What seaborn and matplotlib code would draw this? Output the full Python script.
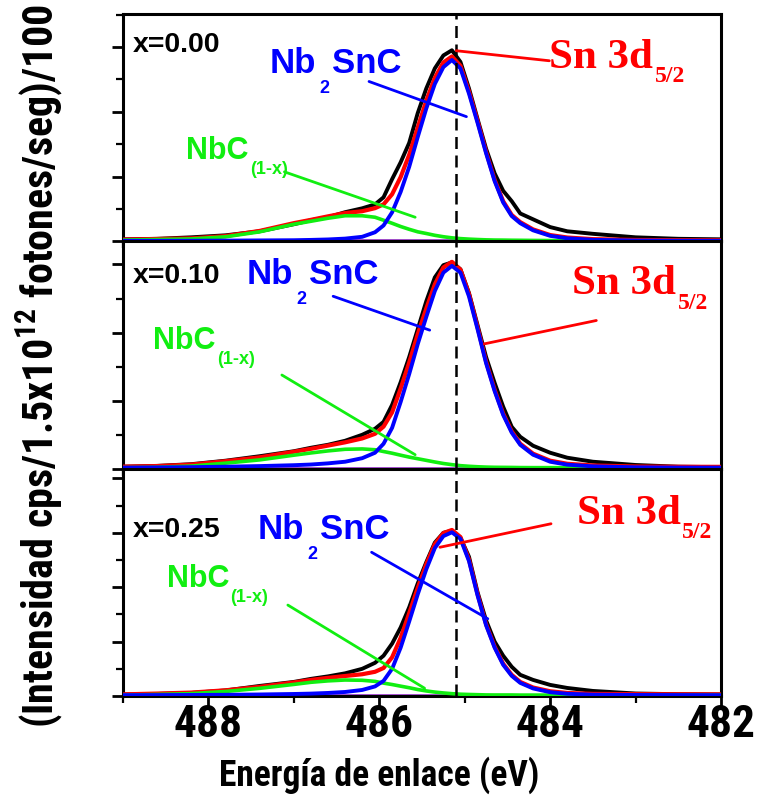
import matplotlib
matplotlib.use("Agg")
import matplotlib.pyplot as plt
from matplotlib import font_manager as fm
from matplotlib.ticker import MultipleLocator
import numpy as np
import pandas as pd
import seaborn as sns

# Binding energy grid (eV)
energia = [489.0, 488.6, 488.2, 487.8, 487.4, 487.0, 486.8, 486.6, 486.4, 486.2, 486.05,
           485.95, 485.85, 485.75, 485.65, 485.55, 485.45, 485.35, 485.25, 485.15,
           485.05, 484.95, 484.85, 484.75, 484.65, 484.55, 484.45, 484.35, 484.2,
           484.0, 483.8, 483.5, 483.0, 482.5, 482.0]

muestras = ["x=0.00", "x=0.10", "x=0.25"]

# x = 0.00
nb2snc_000 = [0.8, 0.8, 0.9, 1.1, 1.4, 1.7, 2.2, 2.9, 4.2, 7.0, 14.0, 24.5, 44.8, 76.3, 115,
              161, 205, 243, 269, 280, 267, 228, 183, 136, 93, 60, 39, 28, 17, 8.5, 4.7,
              2.3, 1.2, 0.9, 0.8]
nbc_000 = [2.0, 2.8, 3.7, 7.0, 14.7, 26.4, 31, 35.7, 39.5, 39.5, 37.2, 32.6, 27.9, 22.9,
           18.6, 14.7, 12.1, 9.3, 7.1, 5.4, 4.2, 3.4, 2.8, 2.3, 2.0, 1.9, 1.7, 1.6, 1.4,
           1.2, 1.2, 1.1, 0.9, 0.9, 0.8]
exp_000 = [3.1, 3.9, 6.2, 9.3, 15.5, 26.4, 32.6, 37.2, 45, 51, 57, 68, 96, 122, 152, 198,
           236, 267, 287, 295, 277, 236, 189, 143, 105, 78, 62, 43, 34, 22, 15.5, 11.6,
           6.2, 3.9, 3.1]

# x = 0.10
nb2snc_010 = [1.5, 1.8, 2.2, 2.9, 3.8, 5.1, 6.1, 7.8, 10.2, 15.4, 23.4, 36.6, 60, 98, 139,
              183, 223, 261, 288, 298, 288, 253, 205, 155, 114, 79, 53, 35, 20.5, 10.2,
              5.9, 3.4, 2.0, 1.6, 1.5]
nbc_010 = [1.5, 2.0, 3.8, 8.1, 12.9, 19.8, 23.1, 26.1, 28.5, 29, 27.8, 25.2, 22.7, 19.8,
           17, 14.6, 12.2, 9.8, 7.6, 5.9, 4.4, 3.5, 2.8, 2.3, 2.0, 1.9, 1.8, 1.6, 1.5,
           1.5, 1.3, 1.3, 1.2, 1.2, 1.2]
exp_010 = [2.9, 4.1, 6.6, 11.7, 18.3, 25.6, 30.7, 35.1, 41, 49.8, 58.6, 68.8, 93.7, 127,
           164, 205, 246, 281, 299, 303, 293, 258, 211, 164, 126, 91, 61.5, 46.8, 33.7,
           23.4, 16.1, 10.2, 5.4, 2.9, 2.2]

# x = 0.25
nb2snc_025 = [1.5, 1.7, 1.9, 2.2, 2.8, 3.7, 4.4, 5.6, 7.4, 11.1, 17.6, 27.8, 50, 88.9, 137,
              187, 233, 272, 294, 301, 289, 248, 185, 130, 88.9, 57.4, 37, 24.1, 13.9,
              7.0, 4.1, 2.4, 1.9, 1.7, 1.5]
nbc_025 = [1.5, 2.8, 4.4, 8.3, 14.1, 21.3, 25.2, 27.8, 29.4, 28.9, 26.9, 23.7, 21.1, 18.1,
           15.2, 11.9, 9.3, 7.2, 5.6, 4.3, 3.3, 2.8, 2.4, 2.0, 1.9, 1.9, 1.9, 1.7, 1.7,
           1.7, 1.5, 1.5, 1.5, 1.5, 1.5]
exp_025 = [2.8, 3.7, 5.6, 10.2, 18.5, 25.9, 31.5, 36.1, 41.7, 50, 61, 74.1, 96.3, 126, 163,
           207, 246, 282, 300, 304, 291, 256, 191, 139, 100, 74.1, 53.7, 38.9, 29.6,
           20.4, 14.8, 9.3, 4.6, 3.3, 2.8]

fondo = [1.5, 1.5, 1.8]          # Shirley background level
techo_y = [351, 334, 418]        # upper intensity limit per panel
pico_sn = 485.1                  # Sn 3d5/2 reference position
ticks_x = [488, 486, 484, 482]

NEGRO, ROJO, AZUL, VERDE, MORADO = "#000000", "#ff0000", "#0000ff", "#11ee11", "#9933cc"

sns.set_style("ticks")
SANS = "Liberation Sans"
SERIF = "Liberation Serif"
plt.rcParams["font.family"] = [SANS, "DejaVu Sans"]
plt.rcParams["mathtext.default"] = "regular"
for clave in ("text.color", "axes.labelcolor", "xtick.color", "ytick.color", "axes.edgecolor"):
    plt.rcParams[clave] = NEGRO


def fuente_estrecha():
    """Bold condensed sans-serif for the axis texts, if one is installed."""
    preferidas = ["Liberation Sans Narrow", "Arial Narrow", "Roboto Condensed",
                  "Open Sans Condensed", "Noto Sans", "DejaVu Sans", "Roboto", "Open Sans"]
    candidatos = []
    for f in fm.fontManager.ttflist:
        peso = f.weight if isinstance(f.weight, int) else {"bold": 700, "heavy": 800,
                                                           "black": 900}.get(str(f.weight), 400)
        ruta = f.fname.lower()
        estrecha = (f.stretch in ("condensed", "semi-condensed") or "narrow" in ruta
                    or ("condensed" in ruta and "extracondensed" not in ruta
                        and "extra-condensed" not in ruta))
        if estrecha and 650 <= peso <= 800 and f.style == "normal":
            rango = next((k for k, p in enumerate(preferidas) if f.name.startswith(p)), 99)
            candidatos.append((rango, f.fname))
    if candidatos:
        candidatos.sort()
        return fm.FontProperties(fname=candidatos[0][1])
    return fm.FontProperties(family=SANS, weight="bold")


ESTRECHA = fuente_estrecha()

fig = plt.figure(figsize=(7.59, 8.0), dpi=100)
gs = fig.add_gridspec(3, 1, left=0.162, right=0.950, bottom=0.130, top=0.9825, hspace=0)
axes = [fig.add_subplot(gs[i]) for i in range(3)]
renderer = fig.canvas.get_renderer()


def talla_para(texto, objetivo_px, base=30, vertical=False):
    """Font size that makes `texto` span objetivo_px pixels in ESTRECHA."""
    sonda = fig.text(0, 0, texto, fontproperties=ESTRECHA, size=base,
                     rotation=90 if vertical else 0)
    bb = sonda.get_window_extent(renderer)
    sonda.remove()
    medida = bb.height if vertical else bb.width
    return base * objetivo_px / medida


series = [(nb2snc_000, nbc_000, exp_000),
          (nb2snc_010, nbc_010, exp_010),
          (nb2snc_025, nbc_025, exp_025)]


def con_subindice(ax, x, y, base, sub, color, fs, fs_sub, family, dy):
    t = ax.text(x, y, base, color=color, fontsize=fs, fontweight="bold",
                family=family, ha="left", va="baseline")
    ax.annotate(sub, xy=(1, 0), xycoords=t, xytext=(1, dy), textcoords="offset points",
                color=color, fontsize=fs_sub, fontweight="bold", family=family,
                ha="left", va="top")
    return t


def nb2snc(ax, x, y, fs=25, fs_sub=13):
    t1 = ax.text(x, y, "Nb", color=AZUL, fontsize=fs, fontweight="bold",
                 family=SANS, ha="left", va="baseline")
    t2 = ax.annotate("2", xy=(1, 0), xycoords=t1, xytext=(2, 0), textcoords="offset points",
                     color=AZUL, fontsize=fs_sub, fontweight="bold", family=SANS,
                     ha="left", va="top")
    ax.annotate("SnC", xy=(1, 0), xycoords=(t2, t1), xytext=(2, 0), textcoords="offset points",
                color=AZUL, fontsize=fs, fontweight="bold", family=SANS,
                ha="left", va="bottom")


# label anchors and leader lines per panel (data coordinates)
rotulos = [
    dict(x=(488.88, 291.7), nb=(487.28, 260.2), nbc=(488.26, 127.0), sn=(484.01, 268.0),
         l_nb=((486.12, 484.98), (246.8, 192.5)), l_nbc=((487.11, 485.58), (107.3, 37.2)),
         l_sn=((484.01, 485.10), (278.8, 294.3))),
    dict(x=(488.89, 272.3), nb=(487.55, 270.8), nbc=(488.65, 175.7), sn=(483.74, 256.2),
         l_nb=((486.54, 485.41), (253.3, 203.5)), l_nbc=((487.14, 485.58), (137.6, 20.5)),
         l_sn=((483.46, 484.77), (217.7, 183.4))),
    dict(x=(488.89, 292.6), nb=(487.42, 288.9), nbc=(488.49, 200.0), sn=(483.69, 316.7),
         l_nb=((486.09, 484.73), (264.3, 142.0)), l_nbc=((487.07, 485.47), (167.2, 14.3)),
         l_sn=((483.99, 485.29), (316.7, 273.5))),
]

for i, ax in enumerate(axes):
    azul, verde, exp = series[i]
    df = pd.DataFrame({"E": energia, "exp": exp, "nb2snc": azul, "nbc": verde})
    df["ajuste"] = df["nb2snc"] + df["nbc"]

    ax.axhline(fondo[i], color=MORADO, lw=1.2, zorder=1)
    sns.lineplot(data=df, x="E", y="exp", ax=ax, color=NEGRO, lw=2.8, zorder=2)
    sns.lineplot(data=df, x="E", y="ajuste", ax=ax, color=ROJO, lw=3.0, zorder=3)
    sns.lineplot(data=df, x="E", y="nbc", ax=ax, color=VERDE, lw=2.6, zorder=4)
    sns.lineplot(data=df, x="E", y="nb2snc", ax=ax, color=AZUL, lw=2.8, zorder=5)
    ax.axvline(pico_sn, color=NEGRO, lw=1.8, ls=(0, (4.8, 2.6)), zorder=6)

    r = rotulos[i]
    ax.plot(*r["l_nb"], color=AZUL, lw=2.0, zorder=7)
    ax.plot(*r["l_nbc"], color=VERDE, lw=2.0, zorder=7)
    ax.plot(*r["l_sn"], color=ROJO, lw=2.0, zorder=7)

    ax.text(*r["x"], muestras[i], fontsize=20.5, fontweight="bold", family=SANS,
            ha="left", va="baseline", color=NEGRO)
    nb2snc(ax, *r["nb"])
    con_subindice(ax, *r["nbc"], "NbC", "(1-x)", VERDE, 22, 13, SANS, 4)
    con_subindice(ax, *r["sn"], "Sn 3d", "5/2", ROJO, 31, 17, SERIF, 7.5)

    ax.set_xlim(489, 482)
    ax.set_ylim(0, techo_y[i])
    ax.set_xlabel("")
    ax.set_ylabel("")
    ax.xaxis.set_major_locator(MultipleLocator(2))
    ax.xaxis.set_minor_locator(MultipleLocator(1))
    ax.yaxis.set_major_locator(MultipleLocator(100))
    ax.yaxis.set_minor_locator(MultipleLocator(50))
    ax.tick_params(which="major", direction="out", length=8, width=2, top=False, right=False)
    ax.tick_params(which="minor", direction="out", length=5, width=1.6, top=False, right=False)
    ax.tick_params(axis="y", labelleft=False)
    for s in ax.spines.values():
        s.set_linewidth(2.2)
        s.set_visible(True)
        s.set_color(NEGRO)
    if i < 2:
        ax.tick_params(axis="x", labelbottom=False)

axes[2].set_xticks(ticks_x, [str(t) for t in ticks_x])
talla_ticks = talla_para("488", 69)
for lab in axes[2].get_xticklabels():
    lab.set_fontproperties(ESTRECHA)
    lab.set_fontsize(talla_ticks)
    lab.set_color(NEGRO)
axes[2].tick_params(axis="x", pad=-2)

fig.text(0.499, 0.031, "Energía de enlace (eV)", ha="center", va="center",
         fontproperties=ESTRECHA, size=talla_para("Energía de enlace (eV)", 321))
etiqueta_y = "(Intensidad cps/1.5x10$^{12}$ fotones/seg)/100"
fig.text(0.052, 0.5425, etiqueta_y, rotation=90, ha="center", va="center",
         fontproperties=ESTRECHA, size=talla_para(etiqueta_y, 723, vertical=True))

fig.savefig("out.png", dpi=100)
